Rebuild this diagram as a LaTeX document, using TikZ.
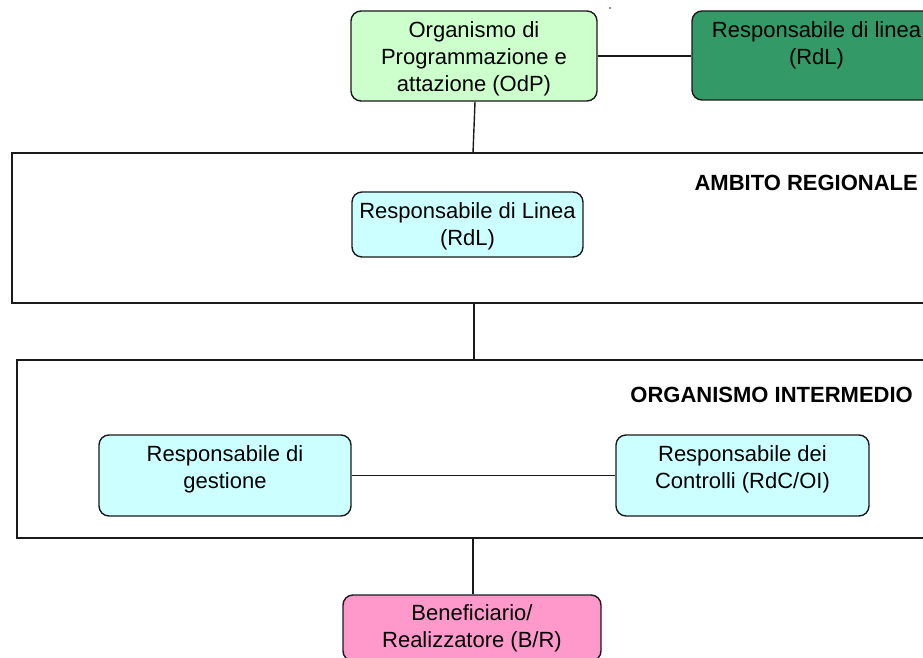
\documentclass[tikz,border=0pt]{standalone}
\usepackage{fontspec}
\setmainfont{Liberation Sans}
\definecolor{lgreen}{HTML}{CCFFCC}
\definecolor{dgreen}{HTML}{339966}
\definecolor{lcyan}{HTML}{CCFFFF}
\definecolor{lpink}{HTML}{FF99CC}
\definecolor{ink}{HTML}{1A1A1A}
\tikzset{
  txt/.style={font=\fontsize{22}{27}\selectfont, align=center, inner sep=0pt},
  rbox/.style={draw=ink, line width=1.4pt, rounded corners=10pt, inner sep=0pt, align=center,
               font=\fontsize{22}{27}\selectfont},
  frame/.style={draw=ink, line width=2pt, inner sep=0pt},
  title/.style={font=\bfseries\fontsize{22}{27}\selectfont, inner sep=0pt},
  conn/.style={draw=ink, line width=1.4pt}
}
\begin{document}
\begin{tikzpicture}[x=1pt,y=-1pt]
\useasboundingbox (0,0) rectangle (923,658);
\clip (0,0) rectangle (923,658);
% containers
\node[frame, minimum width=948pt, minimum height=150pt] (amb) at (486,228) {};
\node[title, anchor=base east] (ambt) at (918,190) {AMBITO REGIONALE};
\node[frame, minimum width=943pt, minimum height=178pt] (oi) at (488.5,449) {};
\node[title, anchor=base east] (oit) at (913,402) {ORGANISMO INTERMEDIO};
% boxes
\node[rbox, fill=lgreen, minimum width=246pt, minimum height=90pt] (odp) at (474,56) {};
\node[txt] (odpt) at (474,58.5) {Organismo di\\Programmazione e\\attazione (OdP)};
\node[rbox, fill=dgreen, minimum width=249pt, minimum height=89pt] (rdla) at (816.5,55.5) {};
\node[txt, anchor=north] (rdlat) at (816.5,21) {Responsabile di linea\\(RdL)};
\node[rbox, fill=lcyan, minimum width=231pt, minimum height=65pt] (rdlb) at (467.5,224.5) {};
\node[txt] (rdlbt) at (467.5,226) {Responsabile di Linea\\(RdL)};
\node[rbox, fill=lcyan, minimum width=252pt, minimum height=81pt] (gest) at (225,475.5) {};
\node[txt] (gestt) at (225,469) {Responsabile di\\gestione};
\node[rbox, fill=lcyan, minimum width=253pt, minimum height=81pt] (ctrl) at (742.5,475.5) {};
\node[txt] (ctrlt) at (742.5,469) {Responsabile dei\\Controlli (RdC/OI)};
\node[rbox, fill=lpink, minimum width=258pt, minimum height=66pt] (benef) at (472,628) {};
\node[txt] (beneft) at (472,628) {Beneficiario/\\Realizzatore (B/R)};
% connector end points
\coordinate (c1) at (473,153);
\coordinate (c2) at (474,303);
\coordinate (c3) at (474,360);
\coordinate (c4) at (473,538);
% connectors
\draw[conn] (odp.east) -- (rdla.west |- odp.east);
\draw[conn] (odp.south) ++(1,0) -- (c1);
\draw[conn] (c2) -- (c3);
\draw[conn] (gest.east) -- (ctrl.west);
\draw[conn] (c4) -- (c4 |- benef.north);
% stray dot
\fill[ink] (610,8) circle (0.9pt);
\end{tikzpicture}
\end{document}
